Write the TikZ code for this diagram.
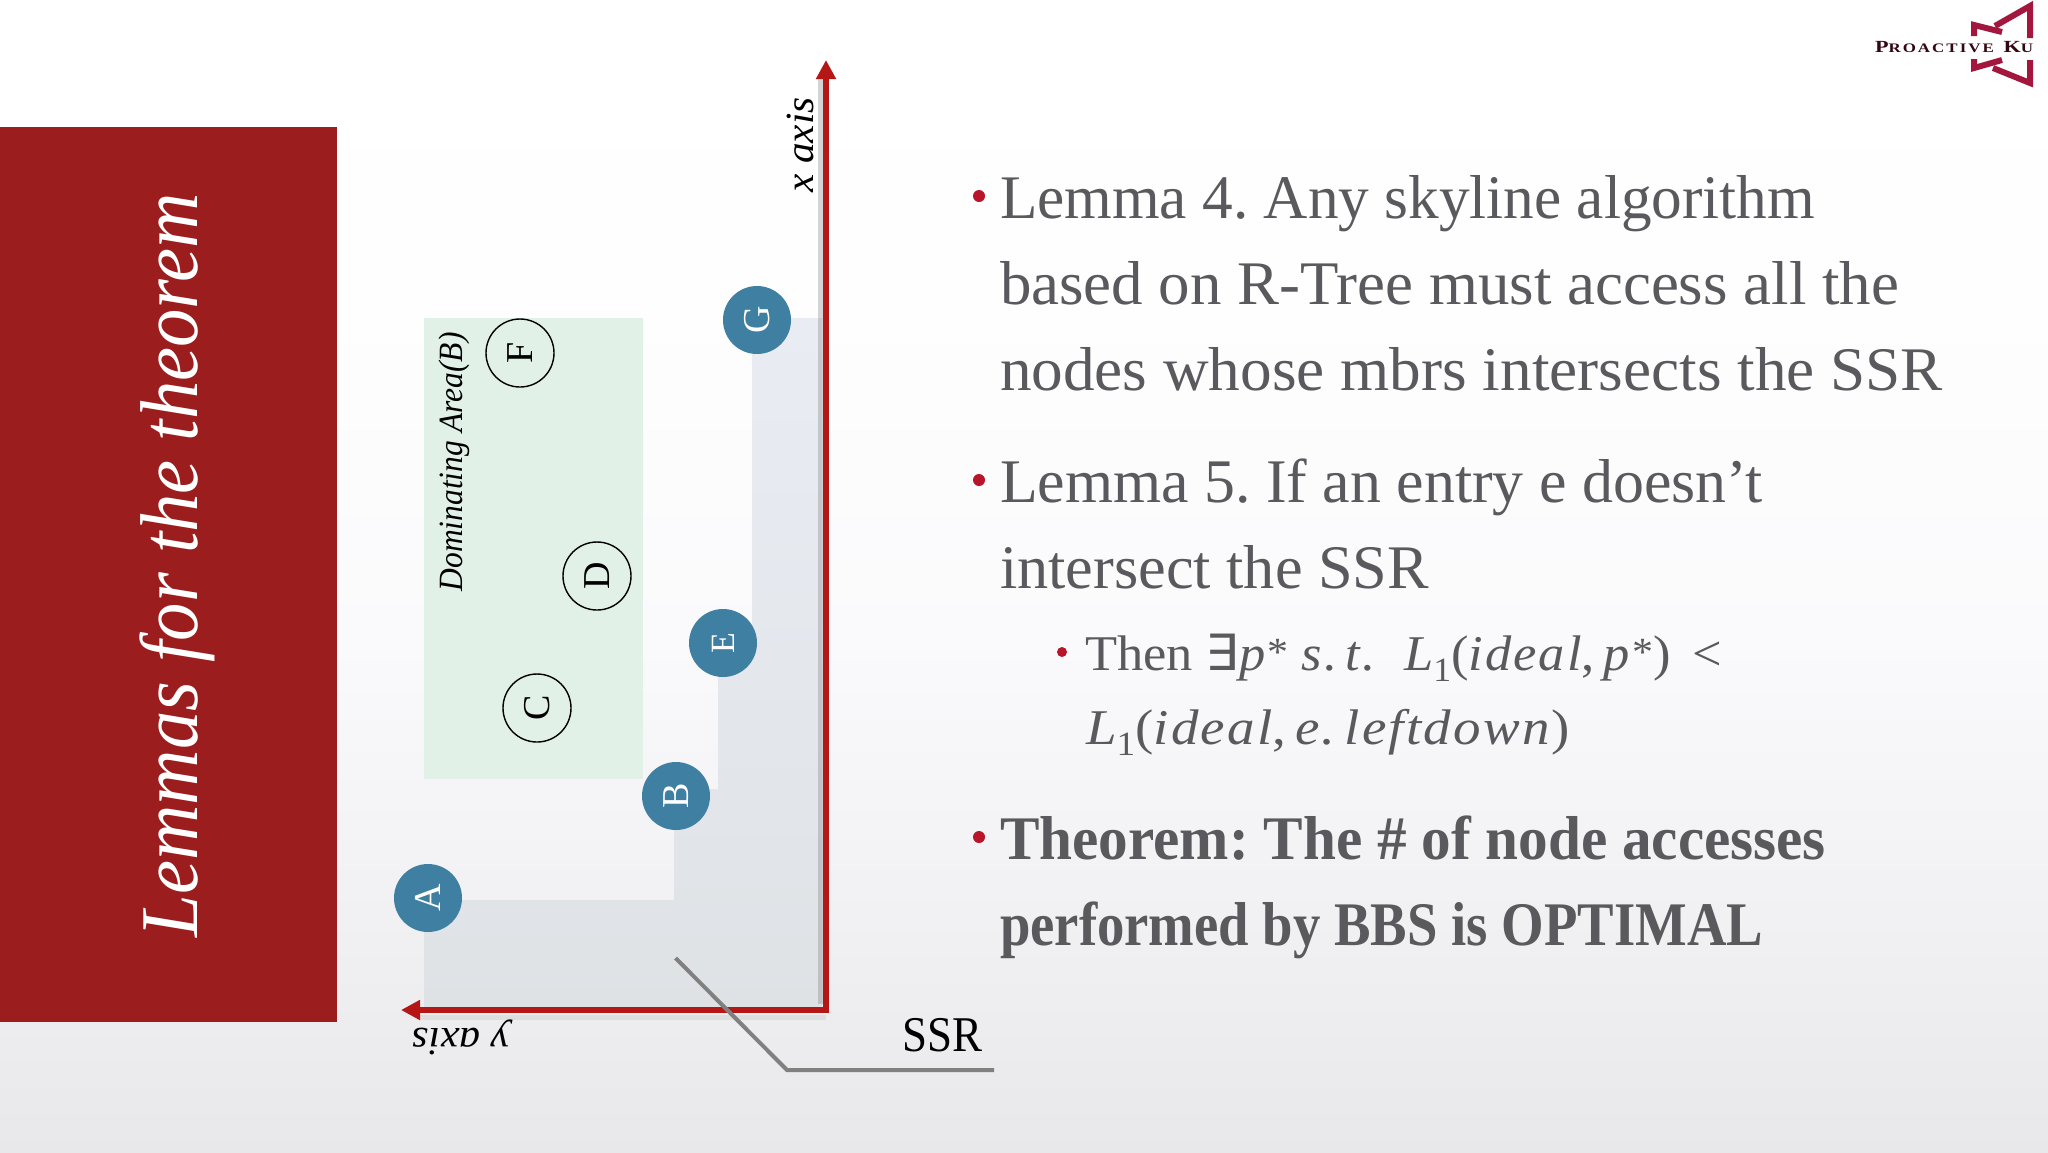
\documentclass[tikz,border=0pt]{standalone}
\usepackage{fontspec}
\usepackage{graphicx}
\setmainfont{Liberation Serif}
\newfontfamily\symfont{DejaVu Sans}
\usetikzlibrary{arrows.meta}
\definecolor{panelred}{HTML}{9C1D1D}
\definecolor{axisred}{HTML}{B51717}
\definecolor{bulletred}{HTML}{B8142A}
\definecolor{txt}{HTML}{5A5A5E}
\definecolor{steel}{HTML}{3F7FA2}
\definecolor{domgreen}{HTML}{E2F1E8}
\definecolor{logored}{HTML}{A3173F}
\definecolor{bgA}{HTML}{E8E8EA}
\definecolor{bgB}{HTML}{F0F0F2}
\definecolor{bgC}{HTML}{FAFAFC}
\definecolor{bgD}{HTML}{FEFEFE}
\definecolor{ssrA}{HTML}{DFE2E5}
\definecolor{ssrB}{HTML}{E9ECF3}
\pgfdeclareverticalshading{bgshade}{100bp}{color(0bp)=(bgA); color(25bp)=(bgA); color(34bp)=(bgB); color(47bp)=(bgC); color(62bp)=(bgD); color(75bp)=(white); color(100bp)=(white)}
\newcommand{\fitw}[2]{\resizebox{#1pt}{\height}{#2}}
\newcommand{\lowidx}[1]{\raisebox{-.22em}{\fontsize{17}{17}\selectfont #1}}
\newcommand{\starmk}{\raisebox{.1em}{\fontsize{20}{20}\selectfont *}}
\newcommand{\mvar}[1]{\textit{\addfontfeature{LetterSpace=4}#1}}
\frenchspacing
\tikzset{
  x=0.5pt,y=-0.5pt,
  textline/.style={anchor=base west,inner sep=0pt,outer sep=0pt,text=txt,font=\fontsize{31}{31}\selectfont},
  subline/.style={anchor=base west,inner sep=0pt,outer sep=0pt,text=txt,font=\fontsize{25}{25}\selectfont},
  boldline/.style={anchor=base west,inner sep=0pt,outer sep=0pt,text=txt,font=\fontsize{31}{31}\selectfont\bfseries},
  bulletdot/.style={circle,fill=bulletred,inner sep=0pt,minimum size=6pt},
  subdot/.style={circle,fill=bulletred,inner sep=0pt,minimum size=5pt},
  filledpt/.style={circle,fill=steel,inner sep=0pt,minimum size=34pt,text=white,font=\fontsize{19}{19}\selectfont,rotate=90},
  openpt/.style={circle,draw=black,line width=.7pt,inner sep=0pt,minimum size=34pt,text=black,font=\fontsize{19}{19}\selectfont,rotate=90},
  axisline/.style={draw=axisred,line width=3.2pt,-{Triangle[width=9.5pt,length=9.5pt]},line join=miter},
  axisshadow/.style={draw=black!55,opacity=.3,line width=2.5pt},
  axisshadowb/.style={draw=black!55,opacity=.12,line width=2.5pt},
  leader/.style={draw=black!50,line width=2pt,line join=miter},
  logoline/.style={draw=logored,line width=3pt,line join=miter},
  lab/.style={inner sep=0pt,outer sep=0pt,anchor=base,text=black}
}
\begin{document}
\begin{tikzpicture}
\useasboundingbox (0,0) rectangle (2048,1152);
\shade[shading=bgshade] (0,0) rectangle (2048,1152);
% panel
\fill[panelred] (0,127) rectangle (337,1022);
\node[lab,rotate=90,text=white,font=\fontsize{41}{41}\selectfont\itshape] (title) at (197,565) {\fitw{372}{Lemmas for the theorem}};
% regions
\fill[domgreen] (424,318) rectangle (643,779);
\shade[top color=ssrB,bottom color=ssrA] (424,1010) -- (424,900) -- (674,900) -- (674,789) -- (718,789) -- (718,643) -- (752,643) -- (752,318) -- (822,318) -- (822,1010) -- cycle;
% axes
\coordinate (origin) at (826,1010);
\coordinate (xtip) at (826,60);
\coordinate (ytip) at (401,1010);
\coordinate (oshadow) at (820,1004);
\coordinate (xshadow) at (820,75);
\coordinate (oshadowb) at (826,1017);
\coordinate (yshadow) at (420,1017);
\draw[axisshadow] (xshadow) -- (oshadow);
\draw[axisshadowb] (oshadowb) -- (yshadow);
\draw[axisline] (origin) -- (xtip);
\draw[axisline] ([xshift=-1.6pt]origin) -- (ytip);
\fill[axisred] (822.7,1006.8) rectangle (829.3,1013.2);
% points
\node[filledpt] (A) at (428,898) {A};
\node[filledpt] (B) at (676,796) {B};
\node[filledpt,font=\fontsize{17}{17}\selectfont] (E) at (723,643) {E};
\node[filledpt] (G) at (757,320) {G};
\node[openpt] (F) at (520,353) {F};
\node[openpt] (D) at (597,576) {D};
\node[openpt] (C) at (537,708) {C};
% labels
\node[lab,rotate=90,font=\fontsize{20}{20}\selectfont\itshape] (xlab) at (813,145) {\fitw{47.5}{x axis}};
\node[lab,rotate=180,font=\fontsize{20}{20}\selectfont\itshape] (ylab) at (461,1028) {\fitw{48.5}{y axis}};
\node[lab,rotate=90,font=\fontsize{17}{17}\selectfont\itshape] (dom) at (462,462) {\fitw{129.5}{Dominating Area(B)}};
% leader
\coordinate (la) at (675.5,958);
\coordinate (lb) at (787,1070);
\coordinate (lc) at (994,1070);
\draw[leader] (la) -- (lb) -- (lc);
\node[lab,font=\fontsize{25}{25}\selectfont] (ssr) at (942,1051) {\fitw{40}{SSR}};
% text
\node[bulletdot] (b1) at (979,196) {};
\node[textline] (t1) at (1000,218) {\fitw{407.5}{Lemma 4. Any skyline algorithm}};
\node[textline] (t2) at (1000,304) {\fitw{449.5}{based on R-Tree must access all the}};
\node[textline] (t3) at (1000,390) {\fitw{471.5}{nodes whose mbrs intersects the SSR}};
\node[bulletdot] (b2) at (979,480) {};
\node[textline] (t4) at (1000,502) {\fitw{381.5}{Lemma 5. If an entry e doesn’t}};
\node[textline] (t5) at (1000,588) {\fitw{214.5}{intersect the SSR}};
\node[subdot] (b3) at (1062,652) {};
\node[subline] (t6) at (1085,670) {\fitw{318.5}{Then {\symfont ∃}\mvar{p}\starmk\ \mvar{s.\,t.}\ \ \textit{L}\lowidx{1}(\mvar{ideal},\,\mvar{p}\starmk)\ \,<}};
\node[subline] (t7) at (1086,744) {\fitw{242}{\textit{L}\lowidx{1}(\mvar{ideal},\,\mvar{e.\,leftdown})}};
\node[bulletdot] (b4) at (979,837) {};
\node[boldline] (t8) at (1000,859) {\fitw{413}{Theorem: The \# of node accesses}};
\node[boldline] (t9) at (1000,945) {\fitw{381.5}{performed by BBS is OPTIMAL}};
% logo
\draw[logoline] (2030,38) -- (2030,6) -- (1995,26);
\draw[logoline] (1974,36) -- (1974,25) -- (2002,32);
\draw[logoline] (2030,60) -- (2030,83) -- (1993,68);
\draw[logoline] (1974,59) -- (1974,68) -- (2002,60);
\node[lab,anchor=base west,text=black!70!logored,font=\bfseries\addfontfeature{LetterSpace=12}] (logo) at (1875,52) {\fitw{79}{{\fontsize{8.5}{9}\selectfont P}{\fontsize{6.5}{7}\selectfont ROACTIVE} {\fontsize{8.5}{9}\selectfont K}{\fontsize{6.5}{7}\selectfont U}}};
\end{tikzpicture}
\end{document}
